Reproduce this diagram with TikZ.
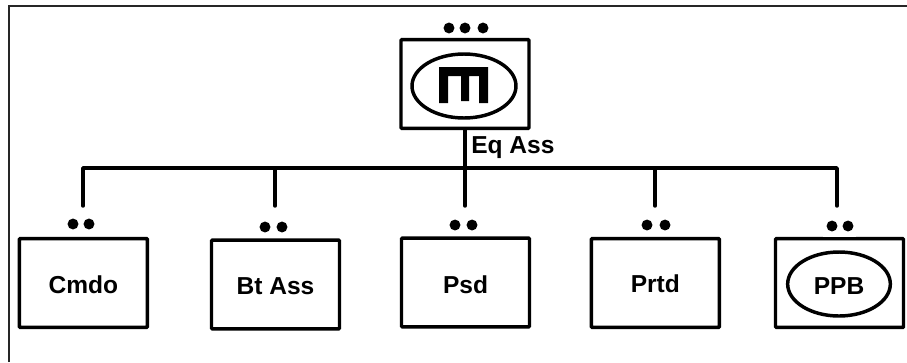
\documentclass[tikz,border=0pt]{standalone}
\usepackage{fontspec}
\setmainfont{Liberation Sans}
\usetikzlibrary{shapes.geometric}
\tikzset{
  x=0.75pt, y=-0.75pt,
  labelfont/.style={font=\bfseries\fontsize{18.4pt}{20pt}\selectfont},
  box/.style={draw, line width=2.6pt, rectangle, rounded corners=0.6pt, minimum width=96pt, minimum height=66.5pt, inner sep=0pt, labelfont, text height=15pt, text depth=0pt},
  oval/.style={draw, line width=2.6pt, ellipse, inner sep=0pt, labelfont, text height=15pt, text depth=0pt},
  dot/.style={circle, fill=black, inner sep=0pt, minimum size=8.2pt},
  wire/.style={line width=2.6pt, line cap=round, line join=round},
  frame/.style={line width=1.5pt, draw=black!85}
}
\begin{document}
\begin{tikzpicture}
\useasboundingbox (0,0) rectangle (907,362);
\draw[frame] (9,362) -- (9,6) -- (907,6);

% boxes
\node[box] (top) at (465,84) {};
\node[box] (cmdo) at (83.3,283) {Cmdo};
\node[box] (bt) at (275.5,284.5) {Bt Ass};
\node[box,text height=16pt] (psd) at (465.5,282.5) {Psd};
\node[box,text height=14pt] (prtd) at (655.3,283) {Prtd};
\node[box] (ppb) at (839.5,283) {};
\node[oval,minimum width=77pt,minimum height=48pt] (ppbo) at (839,284) {PPB};
\node[oval,minimum width=78pt,minimum height=48pt] (topo) at (464,86) {};

% logo
\fill (439,67) -- (488,67) -- (488,103) -- (479,103) -- (479,76) -- (469,76) -- (469,101)
  -- (461,101) -- (461,76) -- (448,76) -- (448,103) -- (439,103) -- cycle;

% white gap over the last box
\fill[white] (823,219) rectangle (856,237.2);

% dots
\node[dot] (t1) at (449,28) {};
\node[dot] (t2) at (465,28) {};
\node[dot] (t3) at (483,28) {};
\node[dot] (c1) at (73,224) {};
\node[dot] (c2) at (89,224) {};
\node[dot] (b1) at (265,227) {};
\node[dot] (b2) at (282,227) {};
\node[dot] (p1) at (455,225) {};
\node[dot] (p2) at (472,225) {};
\node[dot] (r1) at (647,225) {};
\node[dot] (r2) at (665,225) {};
\node[dot] (k1) at (832,226) {};
\node[dot] (k2) at (848,226) {};

% connectors
\coordinate (busC) at (83,168);
\coordinate (busB) at (275,168);
\coordinate (busP) at (465,168);
\coordinate (busR) at (655,168);
\coordinate (busK) at (837,168);
\coordinate (endC) at (83,206);
\coordinate (endB) at (275,206);
\coordinate (endP) at (465,206);
\coordinate (endR) at (655,206);
\coordinate (endK) at (837,206);
\draw[wire] (endC) -- (busC) -- (busK) -- (endK);
\draw[wire] (top.south) -- (endP);
\draw[wire] (busB) -- (endB);
\draw[wire] (busR) -- (endR);

\node[labelfont, anchor=base west, inner sep=0pt] (eq) at (471,153) {Eq Ass};
\end{tikzpicture}
\end{document}
